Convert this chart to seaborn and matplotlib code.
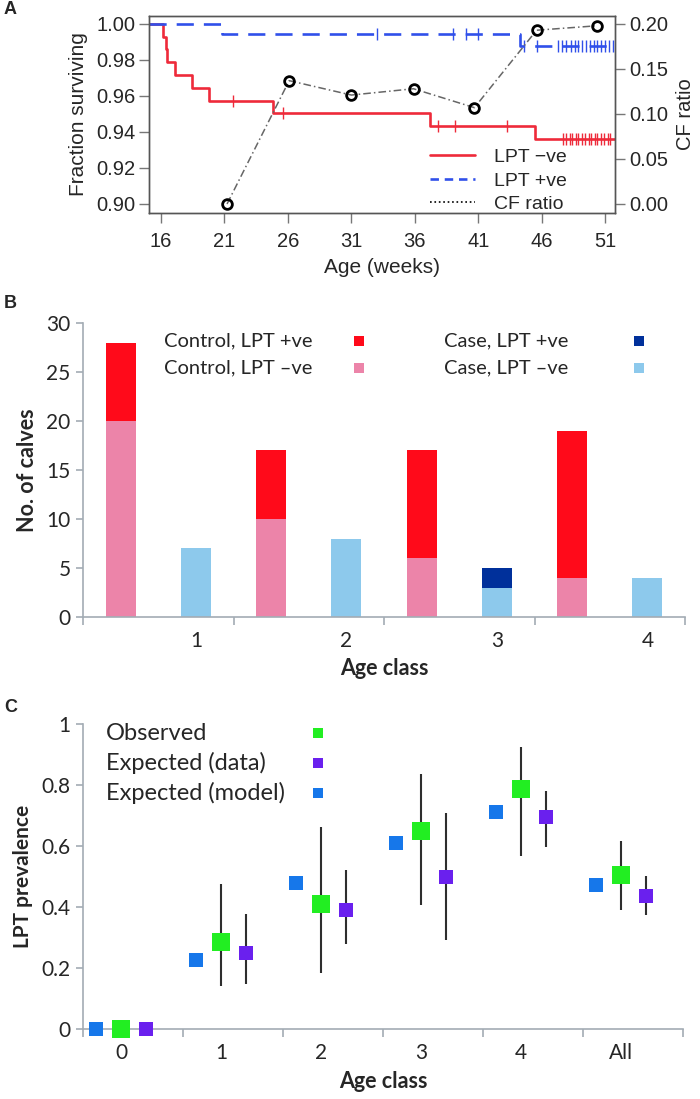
import numpy as np
import pandas as pd
import matplotlib
matplotlib.use("Agg")
import matplotlib.pyplot as plt
from matplotlib.lines import Line2D
import seaborn as sns

# ---- panel A: survival by LPT status (age in weeks) ----
neg_event_weeks = [16.13, 16.37, 16.5, 17.1, 18.47, 19.79, 24.8, 37.2, 45.5]
neg_surv = [0.9929, 0.9858, 0.9787, 0.9716, 0.9645, 0.9574, 0.9503, 0.9432, 0.9361]
neg_censor_weeks = [21.7, 25.6, 37.8, 39.2, 43.3,
                    47.7, 47.9, 48.2, 48.4, 48.7, 48.9, 49.2, 49.4,
                    49.7, 49.9, 50.2, 50.4, 50.7, 50.9, 51.2, 51.4]
pos_event_weeks = [20.8, 44.3]
pos_surv = [0.9943, 0.9875]
pos_censor_weeks = [33.0, 39.0, 40.0, 41.0, 44.6, 45.6,
                    47.3, 47.6, 47.9, 48.3, 48.6, 48.9, 49.2, 49.5,
                    49.8, 50.1, 50.4, 50.7, 51.0, 51.3, 51.6]
cf_weeks = [21.2, 26.1, 31.0, 35.9, 40.7, 45.6, 50.4]
cf_ratio = [0.0, 0.137, 0.121, 0.128, 0.107, 0.193, 0.198]

# ---- panel B: calves per age class ----
age_classes = ["1", "2", "3", "4"]
control_pos = [8, 7, 11, 15]
control_neg = [20, 10, 6, 4]
case_pos = [0, 0, 2, 0]
case_neg = [7, 8, 3, 4]

# ---- panel C: LPT prevalence ----
prev_classes = ["0", "1", "2", "3", "4", "All"]
observed = [0.0, 0.285, 0.411, 0.648, 0.788, 0.505]
observed_lo = [0.0, 0.140, 0.184, 0.405, 0.567, 0.391]
observed_hi = [0.0, 0.475, 0.661, 0.835, 0.923, 0.617]
exp_data = [0.0, 0.249, 0.390, 0.499, 0.696, 0.436]
exp_data_lo = [0.0, 0.146, 0.278, 0.292, 0.598, 0.373]
exp_data_hi = [0.0, 0.377, 0.521, 0.708, 0.781, 0.503]
exp_model = [0.0, 0.227, 0.479, 0.610, 0.710, 0.473]

sns.set_theme(style="ticks")
plt.rcParams["font.family"] = ["Lato", "DejaVu Sans"]
ARIAL = ["Liberation Sans", "DejaVu Sans"]

W, H = 700, 1099
fig = plt.figure(figsize=(W / 100, H / 100), dpi=100)


def box(l, t, r, b):
    return [l / W, 1 - b / H, (r - l) / W, (b - t) / H]


def km_frame(times, surv, x0, x1):
    return pd.DataFrame({"week": [x0] + list(times) + [x1],
                         "surv": [1.0] + list(surv) + [surv[-1]]})


def surv_at(times, surv, t):
    steps = np.concatenate([[1.0], surv])
    return steps[np.searchsorted(times, t, side="right")]


# ---------------- A ----------------
red, blue = "#EE2A3A", "#3050EA"
xmin, xmax = 15.05, 51.78
axA = fig.add_axes(box(149, 16, 615, 213))
sns.lineplot(data=km_frame(neg_event_weeks, neg_surv, xmin, xmax), x="week", y="surv",
             drawstyle="steps-post", estimator=None, sort=False, color=red, lw=1.9, ax=axA)
sns.lineplot(data=km_frame(pos_event_weeks, pos_surv, xmin, xmax), x="week", y="surv",
             drawstyle="steps-post", estimator=None, sort=False, color=blue, lw=1.9,
             linestyle=(0, (6.5, 3.8)), ax=axA)
axA.plot(neg_censor_weeks, surv_at(neg_event_weeks, neg_surv, neg_censor_weeks),
         ls="none", marker="|", ms=8, mew=1.0, color=red)
axA.plot(pos_censor_weeks, surv_at(pos_event_weeks, pos_surv, pos_censor_weeks),
         ls="none", marker="|", ms=8, mew=1.0, color=blue)
axA.set_xlim(xmin, xmax)
axA.set_ylim(0.8950, 1.0044)
axA.set_xticks(range(16, 52, 5))
axA.set_yticks([0.90, 0.92, 0.94, 0.96, 0.98, 1.00])
axA.set_yticklabels([f"{v:.2f}" for v in axA.get_yticks()])

axA2 = axA.twinx()
axA2.plot(cf_weeks, cf_ratio, color="#666666", lw=1.1, linestyle=(0, (5, 2, 1, 2)),
          marker="o", ms=7, mfc="none", mec="black", mew=2.0)
lo, hi = axA.get_ylim()
axA2.set_ylim((lo - 0.9) * 2, (hi - 0.9) * 2)
axA2.set_yticks([0.0, 0.05, 0.10, 0.15, 0.20])
axA2.set_yticklabels([f"{v:.2f}" for v in axA2.get_yticks()])

for ax in (axA, axA2):
    for s in ax.spines.values():
        s.set_color("#555555")
        s.set_linewidth(1.0)
    ax.tick_params(direction="out", length=7, width=1, color="#777777", pad=3,
                   labelsize=14.5, labelfontfamily=ARIAL)
axA.tick_params(axis="x", pad=7)
axA.set_xlabel("Age (weeks)", fontsize=15, family=ARIAL, labelpad=5)
axA.set_ylabel("Fraction surviving", fontsize=15, family=ARIAL, labelpad=6)
axA2.set_ylabel("CF ratio", fontsize=14.5, family=ARIAL, labelpad=6)

handles = [Line2D([], [], color=red, lw=1.9),
           Line2D([], [], color=blue, lw=1.9, linestyle=(0, (3.2, 2.2))),
           Line2D([], [], color="black", lw=1.2, linestyle=":")]
axA2.legend(handles, ["LPT \u2212ve", "LPT +ve", "CF ratio"], loc="lower left",
            bbox_to_anchor=(0.603, 0.0), frameon=False, borderpad=0, borderaxespad=0,
            handlelength=2.3, handletextpad=1.0, labelspacing=0.3,
            prop={"family": ARIAL, "size": 14})

# ---------------- B ----------------
red_b, pink_b, navy_b, sky_b = "#FF0A1A", "#EC84A9", "#00309B", "#8DC9EC"
grey_axis = "#A3ACB4"
rows = []
for c, cp, cn, kp, kn in zip(age_classes, control_pos, control_neg, case_pos, case_neg):
    rows.append({"bar": f"Control {c}", "group": "Control", "total": cp + cn, "neg": cn})
    rows.append({"bar": f"Case {c}", "group": "Case", "total": kp + kn, "neg": kn})
dfB = pd.DataFrame(rows)

axB = fig.add_axes(box(83, 323, 685, 617))
sns.barplot(data=dfB, x="bar", y="total", hue="group", order=list(dfB["bar"]),
            palette={"Control": red_b, "Case": navy_b}, dodge=False, width=0.4,
            saturation=1, errorbar=None, legend=False, linewidth=0, ax=axB)
sns.barplot(data=dfB, x="bar", y="neg", hue="group", order=list(dfB["bar"]),
            palette={"Control": pink_b, "Case": sky_b}, dodge=False, width=0.4,
            saturation=1, errorbar=None, legend=False, linewidth=0, ax=axB)
axB.set_xlim(-0.5, 7.5)
axB.set_ylim(0, 30)
axB.set_yticks(range(0, 31, 5))
axB.set_xticks([1, 3, 5, 7], age_classes)
axB.set_xticks(np.arange(-0.5, 8, 2), minor=True)
axB.set_xlabel("Age class", fontsize=15.5, fontweight="bold", labelpad=5)
axB.set_ylabel("No. of calves", fontsize=15.5, fontweight="bold", labelpad=6)

legB = [("Control, LPT +ve", red_b, 0.135, 0.458, 0.939),
        ("Control, LPT \u2013ve", pink_b, 0.135, 0.458, 0.847),
        ("Case, LPT +ve", navy_b, 0.600, 0.924, 0.939),
        ("Case, LPT \u2013ve", sky_b, 0.600, 0.924, 0.847)]
for label, col, tx, mx, y in legB:
    axB.text(tx, y, label, transform=axB.transAxes, fontsize=14.5, va="center")
    axB.scatter([mx], [y], transform=axB.transAxes, marker="s", s=55, color=col, linewidth=0)

# ---------------- C ----------------
green_c, purple_c, blue_c = "#22EE22", "#6A20EE", "#1677EA"
idx = np.arange(len(prev_classes))
axC = fig.add_axes(box(83, 724, 683, 1029))
axC.vlines(idx, observed_lo, observed_hi, color="#2E2E2E", lw=1.5, zorder=2)
axC.vlines(idx + 0.25, exp_data_lo, exp_data_hi, color="#2E2E2E", lw=1.5, zorder=2)
sns.scatterplot(x=idx - 0.25, y=exp_model, marker="s", s=95, color=blue_c, linewidth=0,
                clip_on=False, zorder=3, ax=axC)
sns.scatterplot(x=idx, y=observed, marker="s", s=150, color=green_c, linewidth=0,
                clip_on=False, zorder=3, ax=axC)
sns.scatterplot(x=idx + 0.25, y=exp_data, marker="s", s=95, color=purple_c, linewidth=0,
                clip_on=False, zorder=3, ax=axC)
axC.set_xlim(-0.38, 5.62)
axC.set_ylim(0, 1)
axC.set_yticks([0, 0.2, 0.4, 0.6, 0.8, 1.0], ["0", "0.2", "0.4", "0.6", "0.8", "1"])
axC.set_xticks(idx, prev_classes)
axC.set_xticks(np.arange(-0.38, 5.7, 1), minor=True)
axC.set_xlabel("Age class", fontsize=15.5, fontweight="bold", labelpad=6)
axC.set_ylabel("LPT prevalence", fontsize=15, fontweight="bold", labelpad=6)

legC = [("Observed", green_c, 0.970), ("Expected (data)", purple_c, 0.872),
        ("Expected (model)", blue_c, 0.774)]
for label, col, y in legC:
    axC.text(0.038, y, label, transform=axC.transAxes, fontsize=17, va="center")
    axC.scatter([0.392], [y], transform=axC.transAxes, marker="s", s=60, color=col, linewidth=0)

for ax in (axB, axC):
    sns.despine(ax=ax)
    for s in ("left", "bottom"):
        ax.spines[s].set_color(grey_axis)
        ax.spines[s].set_linewidth(1.2)
    ax.tick_params(axis="y", direction="out", length=5, width=1.2, color=grey_axis,
                   labelsize=15, pad=4)
    ax.tick_params(axis="x", which="major", length=0, labelsize=15, pad=10)
    ax.tick_params(axis="x", which="minor", direction="out", length=6, width=1.2,
                   color=grey_axis)

for label, y in (("A", 10), ("B", 303), ("C", 708)):
    fig.text(4 / W, 1 - y / H, label, fontsize=13, fontweight="bold", family=ARIAL,
             va="center", ha="left")

fig.savefig("out.png", dpi=100)
